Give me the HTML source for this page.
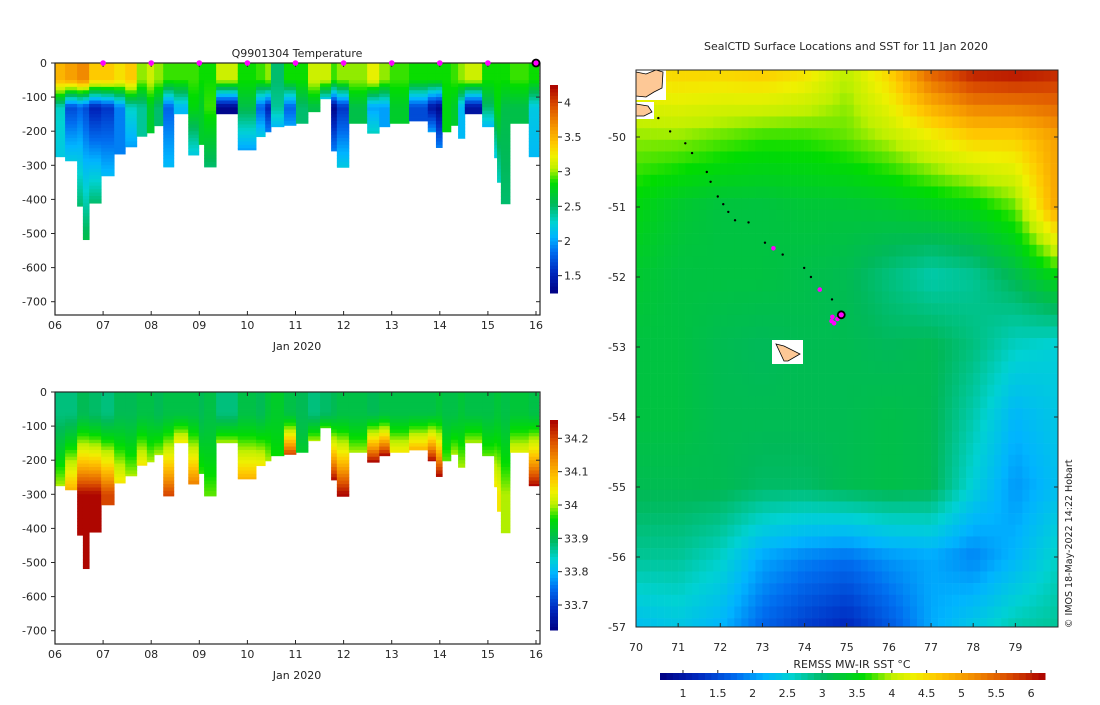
<!DOCTYPE html>
<html><head><meta charset="utf-8"><style>
html,body{margin:0;padding:0;background:#fff}
svg text{font-family:"DejaVu Sans","Liberation Sans",sans-serif;font-size:11px;fill:#262626}
</style></head><body>
<svg id="fig" width="1100" height="700" xmlns="http://www.w3.org/2000/svg">
<g id="tempPlot"></g>
<g id="salPlot"></g>
<g id="mapPlot"></g>
<text x="297" y="57" text-anchor="middle">Q9901304  Temperature</text>
<text x="846" y="50" text-anchor="middle">SealCTD Surface Locations and SST for 11 Jan 2020</text>
<text x="852" y="668" text-anchor="middle">REMSS MW-IR SST °C</text>
<text transform="translate(1072,628) rotate(-90)" style="font-size:9.5px">© IMOS 18-May-2022 14:22 Hobart</text>
</svg>
<script>
// ---- profile data ----
const profDays=[6.00,6.21,6.46,6.58,6.71,6.96,7.23,7.46,7.70,7.91,8.06,8.25,8.47,8.77,8.99,9.10,9.35,9.80,10.18,10.37,10.49,10.76,11.01,11.26,11.51,11.74,11.86,12.11,12.49,12.74,12.96,13.36,13.75,13.92,14.05,14.23,14.38,14.52,14.88,15.13,15.19,15.27,15.46,15.85];
const profEnd=16.06;
const maxDepth=[275,287,420,518,411,331,267,246,215,205,184,305,149,270,239,305,149,255,216,202,187,183,177,143,105,258,306,177,206,187,177,170,202,248,202,183,221,149,187,278,350,413,177,275];
const tSurf=[3.5,3.6,3.7,3.7,3.4,3.4,3.3,3.4,3.0,3.1,3.0,2.9,2.9,2.9,2.85,2.85,3.1,2.85,2.9,3.0,2.5,2.85,2.85,3.1,3.1,2.9,3.0,3.0,3.2,3.0,2.9,2.85,2.85,2.85,2.85,2.9,3.0,3.1,2.85,2.85,2.85,2.85,2.9,2.85];
const tMin=[2.3,1.7,1.8,1.7,1.5,1.6,1.9,2.3,2.4,2.7,2.5,1.8,2.1,2.8,2.7,2.9,1.3,2.6,1.8,1.5,2.4,1.8,2.5,2.6,2.2,1.3,1.6,2.6,2.0,2.0,2.7,1.7,1.4,1.3,2.8,2.7,2.1,1.4,2.5,2.8,2.8,2.6,2.6,2.2];
const tBot=[2.2,2.2,2.5,2.6,2.5,2.1,1.9,2.0,2.4,2.7,2.5,2.1,2.1,2.2,2.7,2.5,1.3,2.0,2.2,1.9,2.1,2.0,2.5,2.6,2.2,1.9,2.2,2.6,2.3,2.0,2.7,1.7,2.0,1.9,2.8,2.7,2.1,1.4,2.1,2.2,2.3,2.5,2.6,2.1];
const sSurf=[33.88,33.88,33.90,33.90,33.89,33.88,33.90,33.90,33.91,33.91,33.90,33.91,33.91,33.91,33.90,33.91,33.88,33.91,33.90,33.92,33.93,33.91,33.90,33.88,33.89,33.90,33.91,33.91,33.90,33.91,33.91,33.91,33.91,33.92,33.91,33.91,33.92,33.91,33.91,33.92,33.92,33.91,33.92,33.91];
const sBot=[34.0,34.1,34.25,34.25,34.25,34.2,34.05,34.0,34.05,34.0,34.0,34.2,34.05,34.15,33.97,33.98,34.0,34.1,34.05,34.0,33.96,34.2,33.93,34.0,33.97,34.25,34.25,34.0,34.25,34.25,34.05,34.1,34.25,34.25,33.98,34.0,34.0,34.0,33.98,34.05,34.05,34.0,34.03,34.25];
const markerDays=[7,8,9,10,11,12,13,14,15];
const currentDay=16;
const dayTicks=["06","07","08","09","10","11","12","13","14","15","16"];
const depthTicks=[0,-100,-200,-300,-400,-500,-600,-700];
const tempCbTicks=[1.5,2,2.5,3,3.5,4];
const salCbTicks=[33.7,33.8,33.9,34,34.1,34.2];
// ---- map data (1-degree grid, lon 70..80, lat -49..-57) ----
const gridLons=[70,71,72,73,74,75,76,77,78,79,80];
const gridLats=[-49,-50,-51,-52,-53,-54,-55,-56,-57];
const sstRow49=[4.5,4.6,4.6,4.7,4.5,4.0,4.6,5.6,6.1,6.2,6.0];
const sstRow50=[3.9,3.9,3.8,3.7,3.7,3.8,4.0,4.3,4.6,4.6,5.0];
const sstRow51=[3.5,3.3,3.2,3.2,3.25,3.25,3.3,3.4,3.5,3.8,5.0];
const sstRow52=[3.3,3.2,3.2,3.2,3.15,3.1,2.9,2.7,2.8,3.1,3.5];
const sstRow53=[3.2,3.2,3.1,3.05,3.1,3.1,3.05,3.1,2.9,2.6,2.5];
const sstRow54=[3.2,3.2,3.1,3.1,3.1,3.1,3.15,3.1,2.7,2.2,2.4];
const sstRow55=[3.1,3.1,3.1,3.0,3.0,3.1,3.15,3.1,2.5,2.0,2.3];
const sstRow56=[2.8,2.8,2.6,2.1,1.9,1.8,2.0,2.1,1.9,2.2,2.6];
const sstRow57=[2.3,2.4,2.2,1.7,1.4,1.2,1.6,2.1,2.4,2.7,2.8];
const trackLon=[70.53,70.81,71.17,71.33,71.68,71.77,71.94,72.07,72.19,72.35,72.67,73.06,73.48,73.99,74.15,74.65];
const trackLat=[-49.73,-49.92,-50.09,-50.23,-50.50,-50.64,-50.85,-50.96,-51.07,-51.19,-51.22,-51.51,-51.68,-51.87,-52.00,-52.32];
const pinkLon=[73.26,74.36,74.66,74.70,74.78,74.64];
const pinkLat=[-51.59,-52.18,-52.57,-52.66,-52.60,-52.63];
const curLon=74.87, curLat=-52.54;
const lonTicks=[70,71,72,73,74,75,76,77,78,79];
const latTicks=[-50,-51,-52,-53,-54,-55,-56,-57];
const sstCbTicks=[1,1.5,2,2.5,3,3.5,4,4.5,5,5.5,6];

const NS='http://www.w3.org/2000/svg';
function mk(tag,attrs,parent){const e=document.createElementNS(NS,tag);for(const k in attrs)e.setAttribute(k,attrs[k]);parent.appendChild(e);return e;}
const stops=[[0,0,0,130],[0.1,0,40,190],[0.2,0,110,240],[0.27,0,180,255],[0.34,0,210,210],[0.43,0,185,90],[0.53,0,220,0],[0.6,190,240,0],[0.66,240,240,0],[0.72,255,200,0],[0.8,245,150,0],[0.9,220,80,0],[1,170,0,0]];
function cmap(f){f=Math.max(0,Math.min(1,f));for(let i=1;i<stops.length;i++){if(f<=stops[i][0]){const a=stops[i-1],b=stops[i],t=(f-a[0])/(b[0]-a[0]);return 'rgb('+[1,2,3].map(j=>Math.round(a[j]+(b[j]-a[j])*t)).join(',')+')';}}return 'rgb(170,0,0)';}

function tempAt(i,d){const md=maxDepth[i];if(d<=50)return tSurf[i];const e=Math.min(130,md);if(d<=e)return tSurf[i]+(tMin[i]-tSurf[i])*(d-50)/Math.max(1,e-50);if(md<=130)return tMin[i];return tMin[i]+(tBot[i]-tMin[i])*(d-130)/(md-130);}
function salAt(i,d){const md=maxDepth[i];if(d<=60)return sSurf[i];const e=Math.min(md,300);if(d>=e)return sBot[i];return sSurf[i]+(sBot[i]-sSurf[i])*Math.pow((d-60)/Math.max(1,e-60),1.3);}

function section(g,top,valFn,vmin,vmax,cbTicks,cbTop,cbBot,isTemp,xlabY){
  const L=55,R=540,B=top+252;const sx=d=>L+(d-6)*48.1;const sy=z=>top+z*0.341;
  for(let i=0;i<profDays.length;i++){
    const x0=sx(profDays[i]),x1=sx(i+1<profDays.length?profDays[i+1]:profEnd);
    for(let d=0;d<maxDepth[i];d+=10){
      const v=valFn(i,d+5);
      const r=mk('rect',{x:x0,y:sy(d),width:x1-x0+0.4,height:Math.min(10,maxDepth[i]-d)*0.341+0.4,fill:cmap((v-vmin)/(vmax-vmin))},g);
      
      
    }
  }
  const ax=mk('rect',{x:L,y:top,width:R-L,height:B-top,fill:'none',stroke:'#262626','stroke-width':1.2},g);
  
  dayTicks.forEach((t,k)=>{const x=sx(6+k);mk('line',{x1:x,x2:x,y1:B,y2:B-4,stroke:'#262626'},g);mk('line',{x1:x,x2:x,y1:top,y2:top+4,stroke:'#262626'},g);
    const tx=mk('text',{x:x,y:B+14,'text-anchor':'middle'},g);tx.textContent=t;});
  depthTicks.forEach(t=>{const y=sy(-t);mk('line',{x1:L,x2:L-4,y1:y,y2:y,stroke:'#262626'},g);mk('line',{x1:R,x2:R-4,y1:y,y2:y,stroke:'#262626'},g);
    const tx=mk('text',{x:L-8,y:y+4,'text-anchor':'end'},g);tx.textContent=t;});
  const xl=mk('text',{x:297,y:xlabY,'text-anchor':'middle'},g);xl.textContent='Jan 2020';
  const cb=mk('g',{},g);
  const n=60;for(let k=0;k<n;k++){const y=cbBot-(k+1)*(cbBot-cbTop)/n;mk('rect',{x:550,y:y,width:8,height:(cbBot-cbTop)/n+0.5,fill:cmap((k+0.5)/n)},cb);}
  cbTicks.forEach(t=>{const y=cbBot-(t-vmin)/(vmax-vmin)*(cbBot-cbTop);mk('line',{x1:558,x2:562,y1:y,y2:y,stroke:'#262626'},cb);
    const tx=mk('text',{x:564,y:y+4},cb);tx.textContent=t;});
  if(isTemp){markerDays.forEach(d=>{const c=mk('circle',{cx:sx(d),cy:top,r:2.8,fill:'#ff00ff'},g);});
    const c=mk('circle',{cx:sx(currentDay),cy:top,r:3.5,fill:'#ff00ff',stroke:'#000','stroke-width':1.8},g);}
}
section(document.getElementById('tempPlot'),63,tempAt,1.25,4.25,tempCbTicks,85,293,true,350);
section(document.getElementById('salPlot'),392,salAt,33.625,34.255,salCbTicks,420,630,false,679);

// ---- map ----
(function(){
  const g=document.getElementById('mapPlot');
  const rows=[sstRow49,sstRow50,sstRow51,sstRow52,sstRow53,sstRow54,sstRow55,sstRow56,sstRow57];
  const lx=lon=>636+(lon-70)*42.15, ly=lat=>137+(-50-lat)*70;
  const smin=0.67,smax=6.2;
  function sst(lon,lat){const fx=(lon-70),fy=(-49-lat);const i=Math.max(0,Math.min(9,Math.floor(fx))),j=Math.max(0,Math.min(7,Math.floor(fy)));const tx=Math.min(1,Math.max(0,fx-i)),ty=Math.min(1,Math.max(0,fy-j));
    return rows[j][i]*(1-tx)*(1-ty)+rows[j][i+1]*tx*(1-ty)+rows[j+1][i]*(1-tx)*ty+rows[j+1][i+1]*tx*ty;}
  const step=1/6;
  for(let lat=-49.04;lat>-57.01;lat-=step){for(let lon=70;lon<80.01;lon+=step){
    const v=sst(lon+step/2,lat-step/2);const x0=lx(lon),y0=ly(lat);
    const r=mk('rect',{x:x0,y:y0,width:Math.min(step*42.15,1058-x0)+0.3,height:Math.min(step*70,627-y0)+0.3,fill:cmap((v-smin)/(smax-smin))},g);
    }}
  const land=[[[636,72],[646,74],[656,70],[663,72],[662,88],[654,92],[646,97],[636,96]],[[636,104],[648,106],[652,112],[644,116],[636,116]],[[776,344],[784,346],[800,354],[788,361],[784,361]]];
  const whites=[[636,70,30,30],[636,102,18,17],[772,340,31,24]];
  whites.forEach(w=>{const r=mk('rect',{x:w[0],y:w[1],width:w[2],height:w[3],fill:'#fff'},g);});
  land.forEach(p=>{const e=mk('polygon',{points:p.map(q=>q.join(',')).join(' '),fill:'#fdc896',stroke:'#000','stroke-width':0.8},g);});
  trackLon.forEach((lo,k)=>{const c=mk('circle',{cx:lx(lo),cy:ly(trackLat[k]),r:1.2,fill:'#000'},g);});
  pinkLon.forEach((lo,k)=>{const c=mk('circle',{cx:lx(lo),cy:ly(pinkLat[k]),r:2.3,fill:'#ff00ff'},g);});
  const cc=mk('circle',{cx:lx(curLon),cy:ly(curLat),r:3.5,fill:'#ff00ff',stroke:'#000','stroke-width':1.8},g);
  const ax=mk('rect',{x:636,y:70,width:422,height:557,fill:'none',stroke:'#262626','stroke-width':1},g);
  lonTicks.forEach(t=>{const x=lx(t);mk('line',{x1:x,x2:x,y1:627,y2:623,stroke:'#262626'},g);mk('line',{x1:x,x2:x,y1:70,y2:74,stroke:'#262626'},g);
    const tx=mk('text',{x:x,y:651,'text-anchor':'middle'},g);tx.textContent=t;});
  latTicks.forEach(t=>{const y=ly(t);mk('line',{x1:636,x2:640,y1:y,y2:y,stroke:'#262626'},g);mk('line',{x1:1058,x2:1054,y1:y,y2:y,stroke:'#262626'},g);
    const tx=mk('text',{x:626,y:y+4,'text-anchor':'end'},g);tx.textContent=t;});
  const cb=mk('g',{},g);
  const n=60,cl=660,cr=1045;for(let k=0;k<n;k++){mk('rect',{x:cl+k*(cr-cl)/n,y:673,width:(cr-cl)/n+0.5,height:7,fill:cmap((k+0.5)/n)},cb);}
  sstCbTicks.forEach(t=>{const x=cl+(t-smin)/(smax-smin)*(cr-cl);mk('line',{x1:x,x2:x,y1:670,y2:673,stroke:'#262626'},cb);
    const tx=mk('text',{x:x,y:697,'text-anchor':'middle'},cb);tx.textContent=t;});
})();
</script>
</body></html>
